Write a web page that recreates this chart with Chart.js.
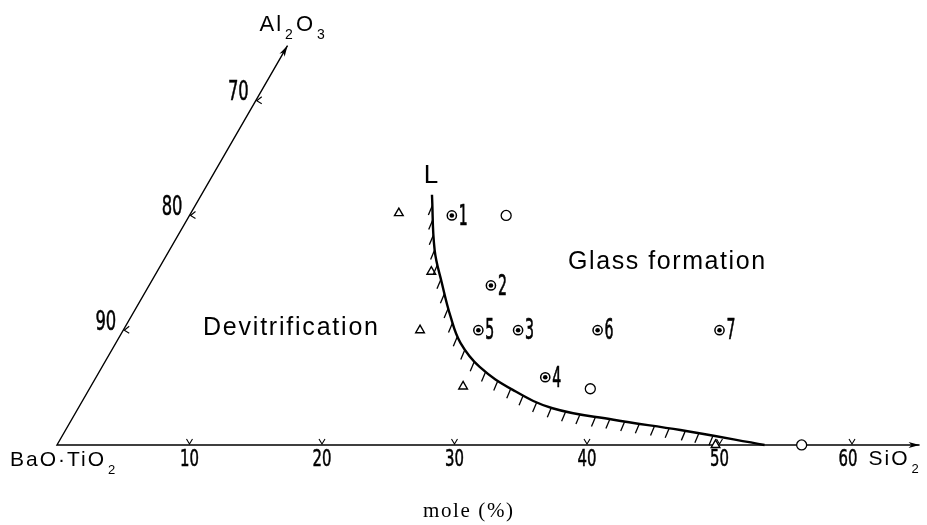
<!DOCTYPE html>
<html>
<head>
<meta charset="utf-8">
<script src="https://cdn.jsdelivr.net/npm/chart.js@4.4.1/dist/chart.umd.min.js"></script>
<style>
  html, body { margin: 0; padding: 0; background: #fff; }
  #wrap { width: 927px; height: 525px; position: relative; }
</style>
</head>
<body>
<div id="wrap"><canvas id="glassChart"></canvas></div>
<script>
// compositions (mol %): SiO2 along the base, Al2O3 along the slanted side
const glassSiO2   = [19.8, 25.8, 29.8, 33.9, 26.8, 35.8, 45.0];
const glassAl2O3  = [20.0, 13.9, 10.0, 5.9, 10.0, 10.0, 10.0];
const glassLabels = ['1', '2', '3', '4', '5', '6', '7'];

const openSiO2  = [23.9, 37.8, 56.2];
const openAl2O3 = [20.0, 4.9, 0];

const devitSiO2  = [15.7, 20.7, 22.4, 28.1, 49.7];
const devitAl2O3 = [20.2, 15.1, 10.0, 5.1, 0];

// glass forming limit, curve L
const boundarySiO2  = [17.4, 20.0, 22.0, 24.1, 26.0, 28.5, 32.0, 35.8, 40.9, 46.4, 53.4];
const boundaryAl2O3 = [21.8, 17.0, 14.1, 11.2, 8.9, 6.8, 4.8, 3.2, 2.2, 1.3, 0];

const sio2Ticks = [10, 20, 30, 40, 50, 60];
const sio2TickLabels = ['10', '20', '30', '40', '50', '60'];
const al2o3Ticks = [10, 20, 30];
const al2o3TickLabels = ['90', '80', '70'];
const sio2AxisEnd = 65.1;
const al2o3AxisEnd = 34.8;

// equilateral triangle coordinates
const R3 = Math.sqrt(3) / 2;
function toXY(s, a) { return { x: s + a / 2, y: a * R3 }; }
function points(sArr, aArr) { return sArr.map((s, i) => toXY(s, aArr[i])); }

const NUM_FONT = '"DejaVu Sans Condensed", "DejaVu Sans", sans-serif';
const TXT_FONT = '"Liberation Sans", Arial, sans-serif';

function fitText(ctx, text, x, y, width) {
    ctx.letterSpacing = '0px';
    const w = ctx.measureText(text).width;
    const gap = text.length > 1 ? (width - w) / (text.length - 1) : 0;
    ctx.letterSpacing = gap + 'px';
    ctx.fillText(text, x, y);
    ctx.letterSpacing = '0px';
}

// narrow digits: squeeze horizontally, optional outline to thicken
function narrowText(ctx, text, x, y, sx, weight) {
    ctx.save();
    ctx.translate(x, y);
    ctx.scale(sx, 1);
    ctx.fillText(text, 0, 0);
    if (weight) {
        ctx.lineWidth = weight;
        ctx.strokeText(text, 0, 0);
    }
    ctx.restore();
}

// formula with subscripts, e.g. [['Al'], ['2', 1], ['O'], ['3', 1]]
function chem(ctx, parts, x, y, size) {
    let cx = x;
    parts.forEach(([t, sub]) => {
        ctx.font = (sub ? Math.round(size * 0.62) : size) + 'px ' + TXT_FONT;
        ctx.letterSpacing = sub ? '0px' : '2px';
        ctx.fillText(t, cx + (sub ? 2 : 0), sub ? y + size * 0.5 : y);
        cx += ctx.measureText(t).width + (sub ? 5 : 0);
    });
    ctx.letterSpacing = '0px';
}

function arrow(ctx, x0, y0, x1, y1) {
    const ang = Math.atan2(y1 - y0, x1 - x0);
    ctx.beginPath();
    ctx.moveTo(x1, y1);
    ctx.lineTo(x1 - 11 * Math.cos(ang) + 3 * Math.sin(ang), y1 - 11 * Math.sin(ang) - 3 * Math.cos(ang));
    ctx.lineTo(x1 - 8 * Math.cos(ang), y1 - 8 * Math.sin(ang));
    ctx.lineTo(x1 - 11 * Math.cos(ang) - 3 * Math.sin(ang), y1 - 11 * Math.sin(ang) + 3 * Math.cos(ang));
    ctx.closePath();
    ctx.fill();
}

const ternaryAxes = {
    id: 'ternaryAxes',
    beforeDatasetsDraw(chart) {
        const { ctx, scales: { x, y } } = chart;
        const px = (s, a) => { const p = toXY(s, a); return [x.getPixelForValue(p.x), y.getPixelForValue(p.y)]; };
        const [ox, oy] = px(0, 0);
        const [ex, ey] = px(sio2AxisEnd, 0);
        const [tx, ty] = px(0, al2o3AxisEnd);

        ctx.save();
        ctx.strokeStyle = '#000';
        ctx.fillStyle = '#000';
        ctx.lineWidth = 1.4;
        ctx.beginPath();
        ctx.moveTo(tx, ty);
        ctx.lineTo(ox, oy);
        ctx.lineTo(ex, ey);
        ctx.stroke();
        arrow(ctx, ox, oy, ex, ey);
        arrow(ctx, ox, oy, tx, ty);

        // small v ticks
        ctx.lineWidth = 1.1;
        sio2Ticks.forEach(v => {
            const [cx, cy] = px(v, 0);
            ctx.beginPath();
            ctx.moveTo(cx - 3, cy - 6);
            ctx.lineTo(cx, cy - 1);
            ctx.lineTo(cx + 3, cy - 6);
            ctx.stroke();
        });
        al2o3Ticks.forEach(v => {
            const [cx, cy] = px(0, v);
            ctx.beginPath();
            ctx.moveTo(cx + 6, cy - 4);
            ctx.lineTo(cx + 1, cy);
            ctx.lineTo(cx + 6, cy + 3);
            ctx.stroke();
        });

        // tick labels
        ctx.font = '23px ' + NUM_FONT;
        ctx.textBaseline = 'middle';
        ctx.textAlign = 'center';
        sio2Ticks.forEach((v, i) => {
            const [cx, cy] = px(v, 0);
            narrowText(ctx, sio2TickLabels[i], cx - (v === 60 ? 4 : 0), cy + 15, 0.72, 0.5);
        });
        ctx.font = '26px ' + NUM_FONT;
        ctx.textAlign = 'right';
        al2o3Ticks.forEach((v, i) => {
            const [cx, cy] = px(0, v);
            narrowText(ctx, al2o3TickLabels[i], cx - 7, cy - 7, 0.7, 0.5);
        });

        // axis titles
        ctx.textAlign = 'left';
        chem(ctx, [['BaO·TiO'], ['2', 1]], ox - 47, oy + 15, 21);
        chem(ctx, [['SiO'], ['2', 1]], ex - 51, ey + 14, 21);
        chem(ctx, [['Al'], ['2', 1], ['O'], ['3', 1]], tx - 28, ty - 21, 22);

        ctx.font = '21px "Liberation Serif", "DejaVu Serif", serif';
        ctx.textBaseline = 'alphabetic';
        fitText(ctx, 'mole (%)', ox + 366, oy + 72, 90);
        ctx.restore();
    },
    afterDatasetsDraw(chart) {
        const { ctx, scales: { x, y } } = chart;
        const axisY = y.getPixelForValue(0);
        ctx.save();
        ctx.strokeStyle = '#000';
        ctx.fillStyle = '#000';

        // hatching on the devitrification side of L
        const meta = chart.getDatasetMeta(chart.data.datasets.findIndex(d => d.label === 'L'));
        const pts = meta.data;
        const path = [];
        for (let i = 0; i < pts.length - 1; i++) {
            const p0 = pts[i], p3 = pts[i + 1];
            const c1x = p0.cp2x ?? p0.x, c1y = p0.cp2y ?? p0.y;
            const c2x = p3.cp1x ?? p3.x, c2y = p3.cp1y ?? p3.y;
            for (let k = 0; k < 40; k++) {
                const t = k / 40, u = 1 - t;
                path.push([
                    u * u * u * p0.x + 3 * u * u * t * c1x + 3 * u * t * t * c2x + t * t * t * p3.x,
                    u * u * u * p0.y + 3 * u * u * t * c1y + 3 * u * t * t * c2y + t * t * t * p3.y
                ]);
            }
        }
        ctx.lineWidth = 1.3;
        let run = 0, next = 10;
        for (let i = 1; i < path.length; i++) {
            run += Math.hypot(path[i][0] - path[i - 1][0], path[i][1] - path[i - 1][1]);
            if (run >= next) {
                next += 15;
                const [hx, hy] = path[i];
                if (hy > axisY - 8) continue;
                ctx.beginPath();
                ctx.moveTo(hx, hy);
                ctx.lineTo(hx - 4, hy + 9.5);
                ctx.stroke();
            }
        }

        // point numbers
        const ring = chart.getDatasetMeta(chart.data.datasets.findIndex(d => d.label === 'glass'));
        ctx.font = '28px ' + NUM_FONT;
        ctx.textAlign = 'left';
        ctx.textBaseline = 'middle';
        ring.data.forEach((el, i) => narrowText(ctx, glassLabels[i], el.x + 7, el.y + 2, 0.56, 0.7));

        // region names
        const P = (X, Y) => [x.getPixelForValue(X), y.getPixelForValue(Y)];
        ctx.font = '26px ' + TXT_FONT;
        ctx.textAlign = 'center';
        const [lx, ly] = P(28.23, 20.3);
        ctx.fillText('L', lx, ly);
        ctx.textAlign = 'left';
        ctx.font = '25px ' + TXT_FONT;
        const [gx, gy] = P(38.57, 13.81);
        fitText(ctx, 'Glass formation', gx, gy, 197);
        const [dx, dy] = P(11.02, 8.83);
        fitText(ctx, 'Devitrification', dx, dy, 175);
        ctx.restore();
    }
};

const ctx = document.getElementById('glassChart').getContext('2d');
const glassPts = points(glassSiO2, glassAl2O3);

new Chart(ctx, {
    type: 'scatter',
    data: {
        datasets: [
            { label: 'glass core', data: glassPts, pointRadius: 2.3, backgroundColor: '#000', borderWidth: 0 },
            { label: 'glass', data: glassPts, pointRadius: 4.6, backgroundColor: '#fff', borderColor: '#000', borderWidth: 1.5 },
            { label: 'open', data: points(openSiO2, openAl2O3), pointRadius: 5, backgroundColor: '#fff', borderColor: '#000', borderWidth: 1.3 },
            { label: 'devit', data: points(devitSiO2, devitAl2O3), pointStyle: 'triangle', pointRadius: 5, backgroundColor: '#fff', borderColor: '#000', borderWidth: 1.4 },
            { label: 'L', data: points(boundarySiO2, boundaryAl2O3), showLine: true, tension: 0.4, pointRadius: 0, borderColor: '#000', borderWidth: 2.4, fill: false }
        ]
    },
    options: {
        responsive: true,
        maintainAspectRatio: false,
        animation: false,
        events: [],
        layout: { padding: 0, autoPadding: false },
        plugins: {
            legend: { display: false },
            tooltip: { enabled: false }
        },
        scales: {
            x: { type: 'linear', min: -4.3, max: 65.66, display: false },
            y: { type: 'linear', min: -6.04, max: 33.58, display: false }
        }
    },
    plugins: [ternaryAxes]
});
</script>
</body>
</html>
